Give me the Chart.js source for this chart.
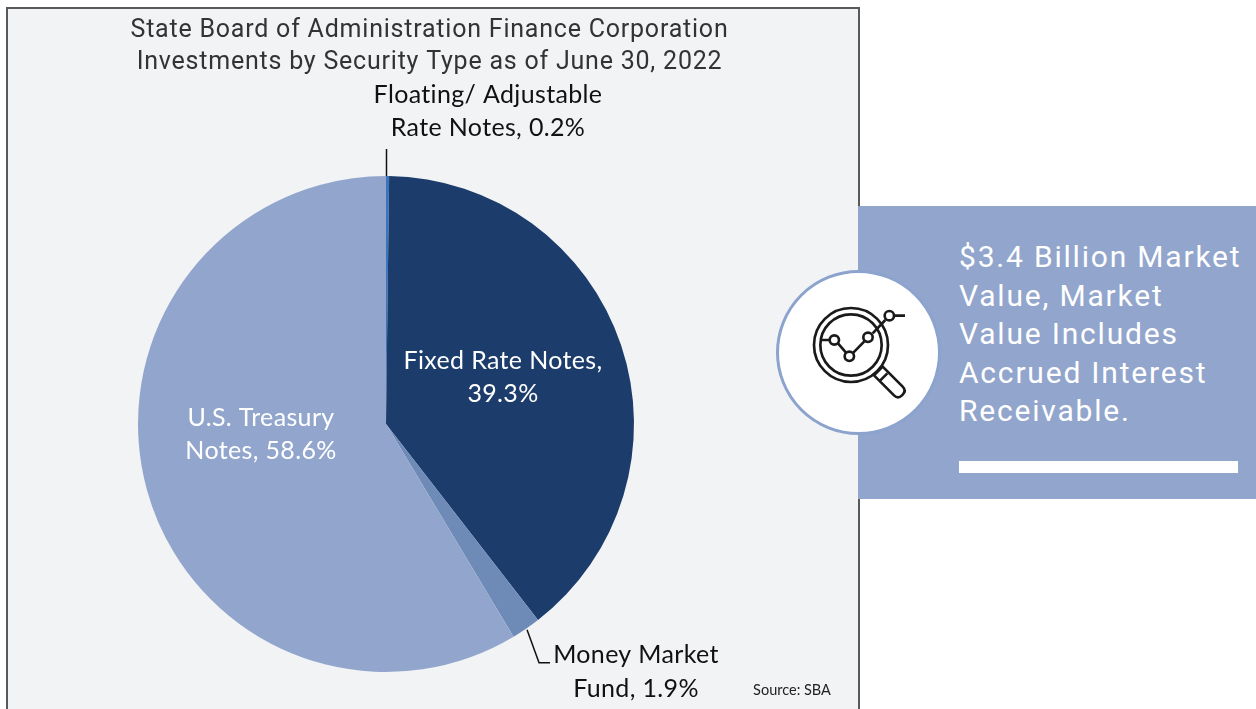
<!DOCTYPE html>
<html>
<head>
<meta charset="utf-8">
<script src="https://cdn.jsdelivr.net/npm/chart.js@4"></script>
<style>
html,body{margin:0;padding:0;background:#fff;overflow:hidden;width:1256px;height:709px}
#panel{position:absolute;left:6px;top:7px;width:850px;height:720px;background:#F2F3F5;border:2px solid #595959;box-sizing:content-box}
#c{position:absolute;left:0;top:0}
#callout{position:absolute;left:858px;top:206px;width:398px;height:293px;background:#92A5CC}
#calltext{position:absolute;left:101px;top:32px;width:297px;font:30px/38.5px Roboto,sans-serif;letter-spacing:1.8px;color:#fff}
#bar{position:absolute;left:101px;top:255px;width:279px;height:12px;background:#fff}
#badge{position:absolute;left:776px;top:270px;width:165px;height:165px;box-sizing:border-box;border-radius:50%;background:#fff;border:3px solid #8CA3CE}
svg{position:absolute;left:770px;top:260px}
</style>
</head>
<body>
<div id="panel"></div>
<canvas id="c" width="859" height="709"></canvas>
<div id="callout">
<div id="calltext">$3.4 Billion Market<br>Value, Market<br>Value Includes<br>Accrued Interest<br>Receivable.</div>
<div id="bar"></div>
</div>
<div id="badge"></div>
<svg width="180" height="180" viewBox="0 0 540 540" fill="none" stroke="#1a1a1a" stroke-width="8">
<circle cx="243" cy="255" r="111"/>
<circle cx="243" cy="255" r="92"/>
<path d="M155 240H180M204 250L228 278M250 278L283 244M308 220L346 180M372 167H405"/>
<circle cx="193" cy="240" r="14"/>
<circle cx="238" cy="289" r="14"/>
<circle cx="294" cy="232" r="14"/>
<circle cx="358" cy="167" r="14"/>
<path d="M332 326L312 346L372 406Q384 418 396 406L398 404Q410 392 398 380L338 320ZM352 340L328 364"/>
</svg>
<script>
const categories = ["Floating/ Adjustable Rate Notes", "Fixed Rate Notes", "Money Market Fund", "U.S. Treasury Notes"];
const values = [0.2, 39.3, 1.9, 58.6];
const sliceColors = ["#3B73BC", "#1C3D6C", "#6E8AB7", "#92A6CD"];
const titleLines = ["State Board of Administration Finance Corporation", "Investments by Security Type as of June 30, 2022"];
const sourceText = "Source: SBA";

const labelSpecs = [
  {lines: ["Floating/ Adjustable", "Rate Notes, " + values[0].toFixed(1) + "%"], x: 488, y: [95, 128], color: "#111"},
  {lines: ["Fixed Rate Notes,", values[1].toFixed(1) + "%"], x: 503, y: [361, 394], color: "#fff"},
  {lines: ["Money Market", "Fund, " + values[2].toFixed(1) + "%"], x: 636, y: [655, 689], color: "#111"},
  {lines: ["U.S. Treasury", "Notes, " + values[3].toFixed(1) + "%"], x: 261, y: [418, 451], color: "#fff"}
];

const annotate = {
  id: "annotate",
  afterLayout(chart) {
    // let the title span the whole panel, not only the pie's padded width
    const t = chart.titleBlock;
    t.left = 0; t.right = chart.width; t.width = chart.width;
  },
  beforeDraw(chart) {
    chart.ctx.letterSpacing = "0.78px";
  },
  afterDatasetsDraw(chart) {
    const ctx = chart.ctx;
    const arcs = chart.getDatasetMeta(0).data;
    ctx.save();
    const edge = (arc, frac) => {
      const a = arc.startAngle + (arc.endAngle - arc.startAngle) * frac;
      return [arc.x + Math.cos(a) * arc.outerRadius, arc.y + Math.sin(a) * arc.outerRadius];
    };
    ctx.strokeStyle = "#111";
    ctx.lineWidth = 1.5;
    const p0 = edge(arcs[0], 0);
    ctx.beginPath();
    ctx.moveTo(p0[0] + 0.5, p0[1]);
    ctx.lineTo(p0[0] + 0.5, p0[1] - 27);
    ctx.stroke();
    const p2 = edge(arcs[2], 0.5);
    ctx.beginPath();
    ctx.moveTo(p2[0] + 1, p2[1] + 1);
    ctx.lineTo(p2[0] + 13, p2[1] + 34);
    ctx.lineTo(p2[0] + 24, p2[1] + 34);
    ctx.stroke();
    ctx.font = "25px Lato, sans-serif";
    ctx.letterSpacing = "0.35px";
    ctx.textAlign = "center";
    ctx.textBaseline = "middle";
    labelSpecs.forEach(s => {
      ctx.fillStyle = s.color;
      s.lines.forEach((t, i) => ctx.fillText(t, s.x, s.y[i]));
    });
    ctx.font = "14.5px Lato, sans-serif";
    ctx.letterSpacing = "0px";
    ctx.fillStyle = "#222";
    ctx.fillText(sourceText, 792, 690);
    ctx.restore();
  }
};

new Chart(document.getElementById("c"), {
  type: "pie",
  data: {
    labels: categories,
    datasets: [{data: values, backgroundColor: sliceColors, borderWidth: 0}]
  },
  options: {
    responsive: false,
    animation: false,
    layout: {padding: {left: 138, right: 225, top: 15, bottom: 37}},
    plugins: {
      legend: {display: false},
      tooltip: {enabled: false},
      title: {
        display: true,
        text: titleLines,
        color: "#333",
        font: {family: "Roboto, sans-serif", size: 25, weight: "normal", lineHeight: 1.28},
        padding: {top: 0, bottom: 97}
      }
    }
  },
  plugins: [annotate]
});
</script>
</body>
</html>
